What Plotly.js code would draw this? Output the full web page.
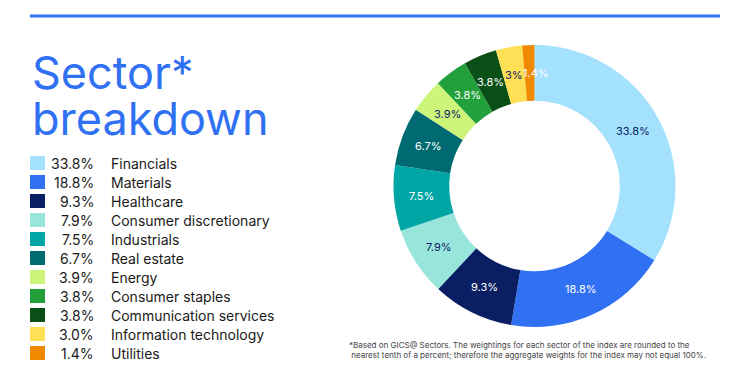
<!DOCTYPE html>
<html><head><meta charset="utf-8">
<script src="https://cdn.plot.ly/plotly-3.0.1.min.js"></script>
<style>html,body{margin:0;padding:0;background:#fff}#chart{width:750px;height:375px}</style>
</head><body><div id="chart"></div>
<script>
const sectors = ["Financials","Materials","Healthcare","Consumer discretionary","Industrials","Real estate","Energy","Consumer staples","Communication services","Information technology","Utilities"];
const weights = [33.8,18.8,9.3,7.9,7.5,6.7,3.9,3.8,3.8,3.0,1.4];
const legendPct = ["33.8%","18.8%","9.3%","7.9%","7.5%","6.7%","3.9%","3.8%","3.8%","3.0%","1.4%"];
const colors = ["#A3E1FD","#3070F2","#0A1F63","#98E5DB","#00A6A6","#006A72","#CDF57A","#21A03B","#0A4F16","#FFDF55","#EF8A00"];
const textColors = ["#0A1F63","#ffffff","#ffffff","#0A1F63","#ffffff","#ffffff","#0A1F63","#ffffff","#ffffff","#0A1F63","#ffffff"];
const title1 = "Sector*";
const title2 = "breakdown";
const footnote = "*Based on GICS@ Sectors. The weightings for each sector of the index are rounded to the<br> nearest tenth of a percent; therefore the aggregate weights for the index may not equal 100%.";

const W = 750, H = 375;
const font = "Inter, 'Noto Sans', sans-serif";
const cx = 534.5, cy = 186, R = 141, HOLE = 0.605;
const labelSize = 11;

const trace = {
  type: "pie",
  labels: sectors,
  values: weights,
  sort: false,
  direction: "clockwise",
  rotation: 0,
  hole: HOLE,
  marker: {colors: colors, line: {width: 0}},
  textinfo: "none",
  showlegend: false,
  domain: {x: [(cx - R) / W, (cx + R) / W], y: [(H - cy - R) / H, (H - cy + R) / H]}
};

const shapes = [{type: "line", xref: "paper", yref: "paper", x0: 30 / W, x1: 720 / W, y0: 1 - 16 / H, y1: 1 - 16 / H, line: {color: "#3070F2", width: 3}}];
const annotations = [
  {text: title1, x: 30 / W, y: 1 - 72 / H, xref: "paper", yref: "paper", xanchor: "left", yanchor: "middle", height: 44, valign: "middle", showarrow: false, font: {family: font, size: 45, color: "#3070F2"}},
  {text: title2, x: 30 / W, y: 1 - 118 / H, xref: "paper", yref: "paper", xanchor: "left", yanchor: "middle", height: 44, valign: "middle", showarrow: false, font: {family: font, size: 45, color: "#3070F2"}},
  {text: footnote, x: 347 / W, y: 1 - 350 / H, xref: "paper", yref: "paper", xanchor: "left", yanchor: "middle", align: "left", showarrow: false, font: {family: font, size: 8, color: "#444444"}}
];

// legend rows
const rowY0 = 163, rowStep = 19;
sectors.forEach((s, i) => {
  const y = rowY0 + i * rowStep;
  shapes.push({type: "rect", xref: "paper", yref: "paper", x0: 30 / W, x1: 45 / W, y0: 1 - (y - 7) / H, y1: 1 - (y + 7) / H, fillcolor: colors[i], line: {width: 0}});
  annotations.push({text: legendPct[i], x: 96 / W, y: 1 - y / H, xref: "paper", yref: "paper", xanchor: "right", yanchor: "middle", showarrow: false, font: {family: font, size: 14, color: "#1a1a1a"}});
  annotations.push({text: s, x: 109 / W, y: 1 - y / H, xref: "paper", yref: "paper", xanchor: "left", yanchor: "middle", showarrow: false, font: {family: font, size: 14, color: "#1a1a1a"}});
});

// slice labels on the ring midline, horizontal, at each slice's mid-angle
const total = weights.reduce((a, b) => a + b, 0);
const rMid = R * (1 + HOLE) / 2;
const estWidth = t => t.split("").reduce((w, c) => w + (c === "." ? 0.28 : c === "%" ? 0.86 : 0.63) * labelSize, 0);
let cum = 0, prev = null;
weights.forEach((v, i) => {
  const theta = 2 * Math.PI * (cum + v / 2) / total;
  cum += v;
  const txt = v + "%";
  const w = estWidth(txt);
  let px = cx + rMid * Math.sin(theta);
  const py = cy - rMid * Math.cos(theta);
  if (prev && Math.abs(py - prev.y) < 12 && px - prev.x < (w + prev.w) / 2 + 1 && px >= prev.x - 4) {
    px = prev.x + (w + prev.w) / 2 + 1;
  }
  prev = {x: px, y: py, w: w};
  annotations.push({text: txt, x: px / W, y: 1 - py / H, xref: "paper", yref: "paper", xanchor: "center", yanchor: "middle", showarrow: false, font: {family: font, size: labelSize, color: textColors[i]}});
});

Plotly.newPlot("chart", [trace], {
  width: W, height: H,
  margin: {l: 0, r: 0, t: 0, b: 0},
  paper_bgcolor: "#ffffff",
  shapes: shapes,
  annotations: annotations
}, {displayModeBar: false, staticPlot: true});
</script></body></html>
